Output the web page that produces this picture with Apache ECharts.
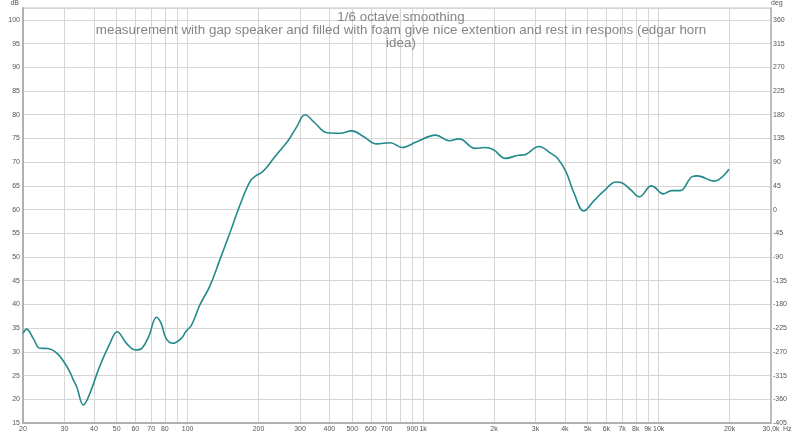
<!DOCTYPE html>
<html>
<head>
<meta charset="utf-8">
<script src="https://cdn.jsdelivr.net/npm/echarts@6/dist/echarts.min.js"></script>
<style>html,body{margin:0;padding:0;background:#fff}#c{width:800px;height:435px}</style>
</head>
<body>
<div id="c"></div>
<script>
const titleLines = [
  "1/6 octave smoothing",
  "measurement with gap speaker and filled with foam give nice extention and rest in respons (edgar horn",
  "idea)"
];
const freqHz = [20, 20.7, 22.1, 23.6, 25.5, 27.9, 30.1, 31.6, 32.7, 33.8, 36.1, 38.5, 42.3, 46.8, 50.2, 55, 59.9, 63.9, 68.3, 73.8, 77.2, 81, 86.5, 94, 98, 104, 113, 124, 137, 151, 167, 184, 196, 206, 216, 231, 251, 267, 291, 315, 348, 391, 445, 498, 558, 635, 726, 814, 940, 1131, 1290, 1422, 1663, 1833, 1991, 2235, 2547, 2675, 3100, 3480, 3720, 4040, 4380, 4810, 5340, 5880, 6590, 7040, 7640, 8290, 9310, 9620, 10450, 11350, 12340, 13890, 14600, 17200, 19900];
const splDb = [33.9, 34.8, 32.85, 30.75, 30.7, 29.7, 27.6, 25.8, 24.1, 22.65, 18.8, 21.3, 26.9, 31.8, 34.25, 31.8, 30.4, 30.75, 33.2, 37.3, 36.0, 32.85, 31.8, 32.85, 34.2, 35.7, 40.0, 43.75, 49.4, 55.0, 61.0, 65.9, 67.2, 67.8, 68.8, 70.7, 72.9, 74.5, 77.5, 80.0, 78.2, 76.2, 76.1, 76.6, 75.4, 73.85, 74.1, 73.1, 74.3, 75.7, 74.5, 74.9, 72.9, 73.1, 72.6, 70.8, 71.45, 71.5, 73.3, 71.9, 70.8, 68.0, 63.4, 59.7, 62.0, 64.0, 65.8, 65.55, 64.1, 62.7, 65.0, 64.7, 63.3, 64.0, 64.0, 66.95, 67.1, 66.0, 68.5];
const gridFreqs = [20, 30, 40, 50, 60, 70, 80, 90, 100, 200, 300, 400, 500, 600, 700, 800, 900, 1000, 2000, 3000, 4000, 5000, 6000, 7000, 8000, 9000, 10000, 20000, 30000];
const labelFreqs = [20, 30, 40, 50, 60, 70, 80, 100, 200, 300, 400, 500, 600, 700, 900, 1000, 2000, 3000, 4000, 5000, 6000, 7000, 8000, 9000, 10000, 20000, 30000];

const chart = echarts.init(document.getElementById('c'), null, {renderer: 'canvas'});
const lblFont = {fontFamily: 'Liberation Sans', fontSize: 7, color: '#555'};
chart.setOption({
  animation: false,
  backgroundColor: '#fff',
  title: {
    text: titleLines.join('\n'),
    left: 396, top: 6, textAlign: 'center',
    textStyle: {fontFamily: 'Liberation Sans', fontSize: 13.4, fontWeight: 'normal', color: '#858585', lineHeight: 13}
  },
  grid: {left: 23, right: 29, top: 8, bottom: 12, containLabel: false, outerBoundsMode: 'none', show: true, borderColor: '#c4c4c4', borderWidth: 1, backgroundColor: '#fff'},
  xAxis: {
    type: 'log', min: 20, max: 30000, logBase: 10,
    name: 'Hz', nameLocation: 'end', nameGap: 12, nameMoveOverlap: false,
    nameTextStyle: Object.assign({}, lblFont, {verticalAlign: 'top', padding: [3, 0, 0, 0]}),
    axisLine: {show: true, onZero: false, lineStyle: {color: '#b0b0b0', width: 2}},
    axisTick: {show: false, customValues: gridFreqs},
    splitLine: {show: true, lineStyle: {color: '#d6d6d6', width: 1}},
    axisLabel: Object.assign({}, lblFont, {
      margin: 3, customValues: labelFreqs, hideOverlap: false, showMinLabel: true, showMaxLabel: true,
      formatter: v => v >= 30000 ? '30,0k' : (v >= 1000 ? (v / 1000) + 'k' : String(v))
    })
  },
  yAxis: [{
    type: 'value', min: 15, max: 102.5, interval: 5,
    name: 'dB', nameLocation: 'end', nameGap: 1,
    nameTextStyle: Object.assign({}, lblFont, {align: 'right', padding: [0, 4, 0, 0]}),
    axisLine: {show: true, lineStyle: {color: '#b0b0b0', width: 2}},
    axisTick: {show: false},
    splitLine: {show: true, lineStyle: {color: '#d6d6d6', width: 1}},
    axisLabel: Object.assign({}, lblFont, {margin: 3, formatter: v => (v % 5 === 0 ? String(v) : '')})
  }, {
    type: 'value', min: -405, max: 382.5, interval: 45, position: 'right',
    name: 'deg', nameLocation: 'end', nameGap: 1,
    nameTextStyle: Object.assign({}, lblFont, {align: 'left'}),
    axisLine: {show: true, lineStyle: {color: '#bcbcbc', width: 2}},
    axisTick: {show: false},
    splitLine: {show: false},
    axisLabel: Object.assign({}, lblFont, {margin: 2, formatter: v => (v % 45 === 0 ? String(v) : '')})
  }],
  series: [{
    type: 'line', yAxisIndex: 0, showSymbol: false, smooth: 0.4,
    lineStyle: {color: '#23898a', width: 1.6},
    data: freqHz.map((f, i) => [f, splDb[i]])
  }]
});
</script>
</body>
</html>
